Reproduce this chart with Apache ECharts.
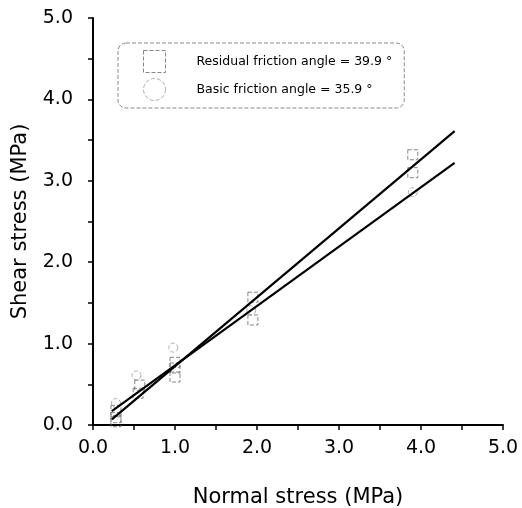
<!DOCTYPE html>
<html><head><meta charset="utf-8">
<script src="https://cdn.jsdelivr.net/npm/echarts@6/dist/echarts.min.js"></script>
<style>html,body{margin:0;padding:0;background:#fff}#c{width:522px;height:508px}</style>
</head><body><div id="c"></div>
<script>
var xTicks = [0, 1, 2, 3, 4, 5];
var yTicks = [0, 1, 2, 3, 4, 5];
var residualName = 'Residual friction angle = 39.9 °';
var basicName = 'Basic friction angle = 35.9 °';
var residualPoints = [[0.28, 0.04], [0.28, 0.09], [0.28, 0.18], [0.55, 0.39], [0.57, 0.49], [1.0, 0.59], [1.0, 0.70], [1.0, 0.77], [1.95, 1.29], [1.95, 1.57], [3.9, 3.10], [3.9, 3.32]];
var basicPoints = [[0.28, 0.27], [0.53, 0.61], [0.98, 0.95], [1.93, 1.41], [3.9, 2.86]];
var residualLine = [[0.23, 0.07], [4.41, 3.61]];
var basicLine = [[0.23, 0.17], [4.41, 3.22]];

var font = 'DejaVu Sans, sans-serif';
var chart = echarts.init(document.getElementById('c'));
var axisCommon = {
  min: xTicks[0], max: xTicks[xTicks.length - 1], interval: 1,
  axisLine: {lineStyle: {color: '#000', width: 2}},
  axisTick: {show: true, inside: false, length: 5, lineStyle: {color: '#000', width: 1.5}},
  minorTick: {show: true, splitNumber: 2, length: 5, lineStyle: {color: '#000', width: 1.5}},
  splitLine: {show: false},
  axisLabel: {color: '#000', fontSize: 19, fontFamily: font, formatter: function (v) { return v.toFixed(1); }},
  nameLocation: 'middle',
  nameTextStyle: {color: '#000', fontSize: 21, fontFamily: font}
};
chart.setOption({
  animation: false,
  grid: {left: 93, right: 19, top: 18, bottom: 83, containLabel: false, outerBoundsMode: 'none'},
  xAxis: Object.assign({}, axisCommon, {type: 'value', name: 'Normal stress (MPa)', nameGap: 62, axisLabel: Object.assign({}, axisCommon.axisLabel, {margin: 14})}),
  yAxis: Object.assign({}, axisCommon, {type: 'value', min: yTicks[0], max: yTicks[yTicks.length - 1], name: 'Shear stress (MPa)', nameGap: 62, axisLabel: Object.assign({}, axisCommon.axisLabel, {margin: 20})}),
  legend: {
    left: 118, top: 43, orient: 'vertical',
    padding: [7, 12, 7, 25], itemGap: 5, itemWidth: 22, itemHeight: 22,
    borderColor: '#888', borderWidth: 1, borderRadius: 8, borderType: 'dashed',
    textStyle: {fontSize: 12.5, fontFamily: font, color: '#000', padding: [0, 0, 0, 26]},
    data: [
      {name: residualName, icon: 'rect', itemStyle: {color: 'rgba(0,0,0,0)', borderColor: '#666', borderWidth: 1, borderType: 'dashed'}},
      {name: basicName, icon: 'circle', itemStyle: {color: 'rgba(0,0,0,0)', borderColor: '#999', borderWidth: 1, borderType: 'dashed'}}
    ]
  },
  series: [
    {type: 'scatter', name: residualName, data: residualPoints, symbol: 'rect', symbolSize: 10,
     itemStyle: {color: 'rgba(0,0,0,0)', borderColor: '#666', borderWidth: 1, borderType: 'dashed'}, z: 2},
    {type: 'scatter', name: basicName, data: basicPoints, symbol: 'circle', symbolSize: 9,
     itemStyle: {color: 'rgba(0,0,0,0)', borderColor: '#999', borderWidth: 1, borderType: 'dashed'}, z: 2},
    {type: 'line', data: residualLine, showSymbol: false, symbol: 'none', lineStyle: {color: '#000', width: 2.2}, z: 3},
    {type: 'line', data: basicLine, showSymbol: false, symbol: 'none', lineStyle: {color: '#000', width: 2.2}, z: 3}
  ]
});
</script></body></html>
